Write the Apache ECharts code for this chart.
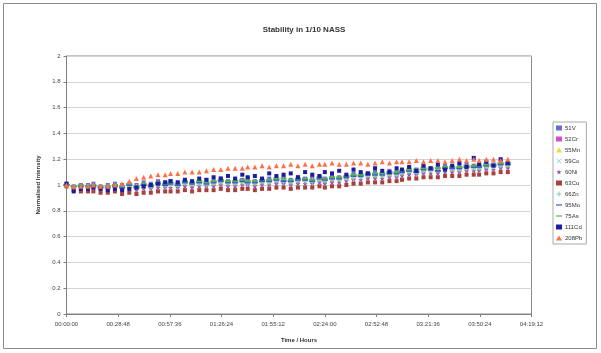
<!DOCTYPE html>
<html>
<head>
<meta charset="utf-8">
<script src="https://cdn.jsdelivr.net/npm/echarts@6/dist/echarts.min.js"></script>
<style>
  html, body { margin: 0; padding: 0; background: #fff; }
  #chart { width: 601px; height: 353px; }
</style>
</head>
<body>
<div id="chart"></div>
<script>
// Sampling times in minutes from the start of the run
const timesMin = [
  0, 4, 8, 12, 15, 19, 23, 27,
  31, 35, 39, 43, 47, 51, 55, 58,
  62, 66, 70, 74, 78, 82, 86, 90,
  94, 98, 101, 105, 109, 113, 117, 121,
  125, 129, 133, 137, 141, 144, 148, 152,
  156, 160, 164, 168, 172, 176, 180, 184,
  187, 191, 195, 199, 203, 207, 211, 215,
  219, 223, 227, 230, 234, 238, 242, 246
];

const isotopes = ['51V', '52Cr', '55Mn', '59Co', '60Ni', '63Cu', '66Zn', '95Mo', '75As', '111Cd', '208Pb'];

// Normalised intensities per isotope
const v51 = [
  1.01,0.99,1.00,1.00,1.01,0.99,1.00,1.01,
  1.00,1.01,1.00,1.02,1.01,1.03,1.02,1.03,
  1.02,1.04,1.02,1.03,1.04,1.03,1.05,1.03,
  1.04,1.04,1.05,1.03,1.04,1.05,1.05,1.06,
  1.04,1.06,1.05,1.06,1.06,1.05,1.07,1.06,
  1.07,1.09,1.08,1.09,1.10,1.09,1.11,1.10,
  1.11,1.13,1.12,1.14,1.13,1.14,1.15,1.14,
  1.15,1.16,1.15,1.16,1.17,1.16,1.18,1.17
];
const cr52 = [
  1.00,0.98,0.99,0.98,0.99,0.98,0.98,0.99,
  0.98,0.99,0.98,0.99,0.99,1.00,1.00,1.01,
  1.00,1.01,1.00,1.02,1.01,1.01,1.02,1.01,
  1.01,1.03,1.02,1.01,1.02,1.03,1.03,1.03,
  1.02,1.03,1.04,1.03,1.04,1.03,1.04,1.05,
  1.05,1.06,1.07,1.07,1.07,1.08,1.08,1.08,
  1.09,1.10,1.10,1.11,1.12,1.11,1.12,1.12,
  1.12,1.13,1.14,1.13,1.14,1.15,1.15,1.15
];
const mn55 = [
  1.00,0.99,0.99,0.99,1.00,0.98,0.99,0.99,
  0.99,1.00,0.99,1.00,1.00,1.01,1.01,1.01,
  1.01,1.02,1.01,1.02,1.02,1.02,1.03,1.02,
  1.02,1.03,1.03,1.02,1.03,1.03,1.04,1.04,
  1.03,1.04,1.04,1.04,1.05,1.04,1.05,1.05,
  1.06,1.07,1.07,1.08,1.08,1.08,1.09,1.09,
  1.10,1.11,1.11,1.12,1.12,1.12,1.13,1.13,
  1.13,1.14,1.14,1.14,1.15,1.15,1.16,1.16
];
const co59 = [
  1.00,0.98,0.98,0.97,0.98,0.97,0.97,0.98,
  0.97,0.97,0.97,0.98,0.98,0.98,0.99,0.99,
  0.98,1.00,0.99,0.99,1.00,1.00,1.00,1.00,
  0.99,1.01,1.00,1.00,1.01,1.00,1.02,1.01,
  1.01,1.01,1.02,1.02,1.02,1.02,1.03,1.02,
  1.04,1.04,1.05,1.05,1.06,1.06,1.06,1.07,
  1.07,1.09,1.08,1.10,1.09,1.10,1.10,1.11,
  1.10,1.12,1.11,1.12,1.12,1.13,1.13,1.14
];
const ni60 = [
  0.99,0.97,0.97,0.97,0.97,0.96,0.96,0.97,
  0.96,0.97,0.96,0.97,0.97,0.98,0.98,0.98,
  0.98,0.99,0.98,0.99,0.99,0.99,1.00,0.99,
  0.99,1.00,1.00,0.99,1.00,1.00,1.01,1.01,
  1.00,1.01,1.01,1.01,1.02,1.01,1.02,1.02,
  1.03,1.04,1.04,1.05,1.05,1.05,1.06,1.06,
  1.07,1.08,1.08,1.09,1.09,1.09,1.10,1.10,
  1.10,1.11,1.11,1.11,1.12,1.12,1.13,1.13
];
const cu63 = [
  0.99,0.96,0.95,0.95,0.95,0.94,0.94,0.95,
  0.93,0.94,0.93,0.94,0.94,0.95,0.95,0.95,
  0.95,0.96,0.95,0.96,0.96,0.96,0.97,0.96,
  0.96,0.97,0.97,0.96,0.97,0.97,0.98,0.98,
  0.97,0.98,0.98,0.98,0.99,0.98,0.99,0.99,
  1.00,1.01,1.01,1.02,1.02,1.02,1.03,1.03,
  1.04,1.05,1.05,1.06,1.06,1.06,1.07,1.07,
  1.07,1.08,1.08,1.08,1.09,1.09,1.10,1.10
];
const zn66 = [
  1.00,0.98,0.99,0.99,0.98,0.98,0.97,0.99,
  0.98,0.98,0.98,0.99,0.98,1.00,0.99,1.00,
  0.99,1.01,1.00,1.01,1.00,1.01,1.02,1.01,
  1.01,1.02,1.01,1.01,1.02,1.02,1.03,1.02,
  1.02,1.03,1.03,1.02,1.04,1.03,1.04,1.04,
  1.05,1.05,1.06,1.07,1.07,1.07,1.08,1.08,
  1.09,1.10,1.09,1.11,1.11,1.11,1.12,1.12,
  1.12,1.13,1.13,1.13,1.14,1.14,1.15,1.15
];
const mo95 = [
  1.00,0.99,0.99,0.99,0.99,0.98,0.98,0.99,
  0.98,1.00,0.98,1.00,0.99,1.01,1.00,1.01,
  1.00,1.02,1.01,1.02,1.01,1.02,1.03,1.02,
  1.02,1.03,1.02,1.02,1.03,1.03,1.04,1.03,
  1.03,1.04,1.04,1.03,1.05,1.04,1.05,1.05,
  1.06,1.07,1.07,1.08,1.08,1.08,1.09,1.09,
  1.10,1.11,1.10,1.12,1.12,1.11,1.13,1.13,
  1.13,1.14,1.14,1.14,1.15,1.15,1.16,1.16
];
const as75 = [
  1.00,0.99,1.00,0.99,1.00,0.99,0.99,1.00,
  0.99,1.01,0.99,1.01,1.00,1.02,1.01,1.02,
  1.01,1.03,1.02,1.03,1.02,1.03,1.04,1.03,
  1.03,1.04,1.03,1.03,1.04,1.04,1.05,1.05,
  1.04,1.05,1.05,1.04,1.06,1.05,1.06,1.06,
  1.07,1.08,1.08,1.09,1.09,1.09,1.10,1.10,
  1.11,1.12,1.12,1.13,1.13,1.13,1.14,1.14,
  1.14,1.15,1.15,1.15,1.16,1.16,1.17,1.17
];
const cd111 = [
  1.01,0.95,0.97,0.97,0.98,0.97,0.96,0.97,
  0.96,0.97,0.98,0.99,1.00,1.01,1.02,1.03,
  1.02,1.04,1.03,1.05,1.04,1.06,1.05,1.07,
  1.05,1.08,1.06,1.07,1.05,1.09,1.07,1.08,
  1.09,1.06,1.10,1.08,1.07,1.10,1.09,1.11,
  1.08,1.12,1.10,1.09,1.13,1.11,1.10,1.13,
  1.12,1.14,1.11,1.15,1.13,1.16,1.12,1.15,
  1.17,1.14,1.21,1.16,1.18,1.15,1.20,1.17
];
const pb208 = [
  1.00,0.99,0.99,0.99,1.00,0.99,0.99,1.00,
  1.01,1.03,1.05,1.06,1.07,1.08,1.08,1.09,
  1.09,1.10,1.10,1.10,1.11,1.12,1.12,1.13,
  1.13,1.13,1.14,1.14,1.15,1.14,1.15,1.15,
  1.16,1.15,1.16,1.15,1.16,1.16,1.17,1.16,
  1.16,1.17,1.17,1.16,1.17,1.18,1.17,1.18,
  1.18,1.18,1.19,1.18,1.19,1.19,1.18,1.19,
  1.20,1.19,1.20,1.19,1.20,1.20,1.19,1.20
];

const seriesValues = [v51, cr52, mn55, co59, ni60, cu63, zn66, mo95, as75, cd111, pb208];

const markerColors = ['#6b6bd0', '#d050c8', '#e8dc30', '#7fd8dc', '#9a4aa8', '#a8403c',
                      '#80c8c8', '#3a5ad0', '#58b058', '#1c1c9c', '#ff7048'];

const SYM_X = 'path://M0,1L1,0L5,4L9,0L10,1L6,5L10,9L9,10L5,6L1,10L0,9L4,5Z';
const SYM_PLUS = 'path://M4,0H6V4H10V6H6V10H4V6H0V4H4Z';
const SYM_STAR = 'path://M5,0L6.2,3.5L10,3.6L7,5.9L8.1,9.6L5,7.4L1.9,9.6L3,5.9L0,3.6L3.8,3.5Z';
const SYM_DASH = 'path://M0,0H10V2H0Z';
const markerShapes = ['rect', 'rect', 'triangle', SYM_X, SYM_STAR, 'rect',
                      SYM_PLUS, SYM_DASH, SYM_DASH, 'rect', 'triangle'];
const markerSizes = [4, 4, 5, 4, 5, 4, 5, [6, 2], [6, 2], 4, 5];

function fmtTime(min) {
  const s = Math.round(min * 60);
  const h = Math.floor(s / 3600), m = Math.floor((s % 3600) / 60), sec = s % 60;
  const p = n => String(n).padStart(2, '0');
  return p(h) + ':' + p(m) + ':' + p(sec);
}

const chart = echarts.init(document.getElementById('chart'), null, { renderer: 'canvas' });

const series = isotopes.map((name, i) => ({
  name: name,
  type: 'scatter',
  symbol: markerShapes[i],
  symbolSize: markerSizes[i],
  itemStyle: { color: markerColors[i], opacity: 1 },
  data: timesMin.map((t, k) => [t, seriesValues[i][k]]),
  z: 2 + i
}));

chart.setOption({
  animation: false,
  backgroundColor: '#ffffff',
  textStyle: { fontFamily: 'Liberation Sans, Arial, sans-serif' },
  graphic: [{
    type: 'rect',
    shape: { x: 3.5, y: 3.5, width: 593, height: 345 },
    style: { fill: 'none', stroke: '#8a8a8a', lineWidth: 1 },
    silent: true
  }],
  title: {
    text: 'Stability in 1/10 NASS',
    left: 299, top: 21,
    textAlign: 'center',
    textStyle: { fontSize: 8, fontWeight: 'bold', color: '#333' }
  },
  legend: {
    orient: 'vertical',
    left: 553, top: 122,
    data: isotopes,
    itemWidth: 6, itemHeight: 5,
    itemGap: 5,
    padding: [3, 4, 3, 3],
    borderColor: '#aaaaaa', borderWidth: 1,
    textStyle: { fontSize: 6, color: '#333', padding: [0, 0, 0, -2] }
  },
  grid: { left: 66.5, right: 69.5, top: 56, bottom: 39, show: true, borderColor: '#8a8a8a', borderWidth: 1 },
  xAxis: {
    type: 'value',
    min: 0, max: 259.2, interval: 28.8,
    name: 'Time / Hours',
    nameLocation: 'middle', nameGap: 23,
    nameTextStyle: { fontSize: 6, fontWeight: 'bold', color: '#333' },
    axisLine: { show: true, lineStyle: { color: '#808080' } },
    axisTick: { show: true, length: 3, lineStyle: { color: '#808080' } },
    axisLabel: { fontSize: 6, color: '#444', margin: 7, formatter: v => fmtTime(v) },
    splitLine: { show: false }
  },
  yAxis: {
    type: 'value',
    min: 0, max: 2, interval: 0.2,
    name: 'Normalised Intensity',
    nameLocation: 'middle', nameGap: 21, nameRotate: 90,
    nameTextStyle: { fontSize: 6, fontWeight: 'bold', color: '#333' },
    axisLine: { show: true, lineStyle: { color: '#808080' } },
    axisTick: { show: true, length: 3, lineStyle: { color: '#808080' } },
    axisLabel: { fontSize: 6, color: '#444', margin: 6 },
    splitLine: { show: true, lineStyle: { color: '#d4d4d4', width: 1 } }
  },
  series: series
});
</script>
</body>
</html>
